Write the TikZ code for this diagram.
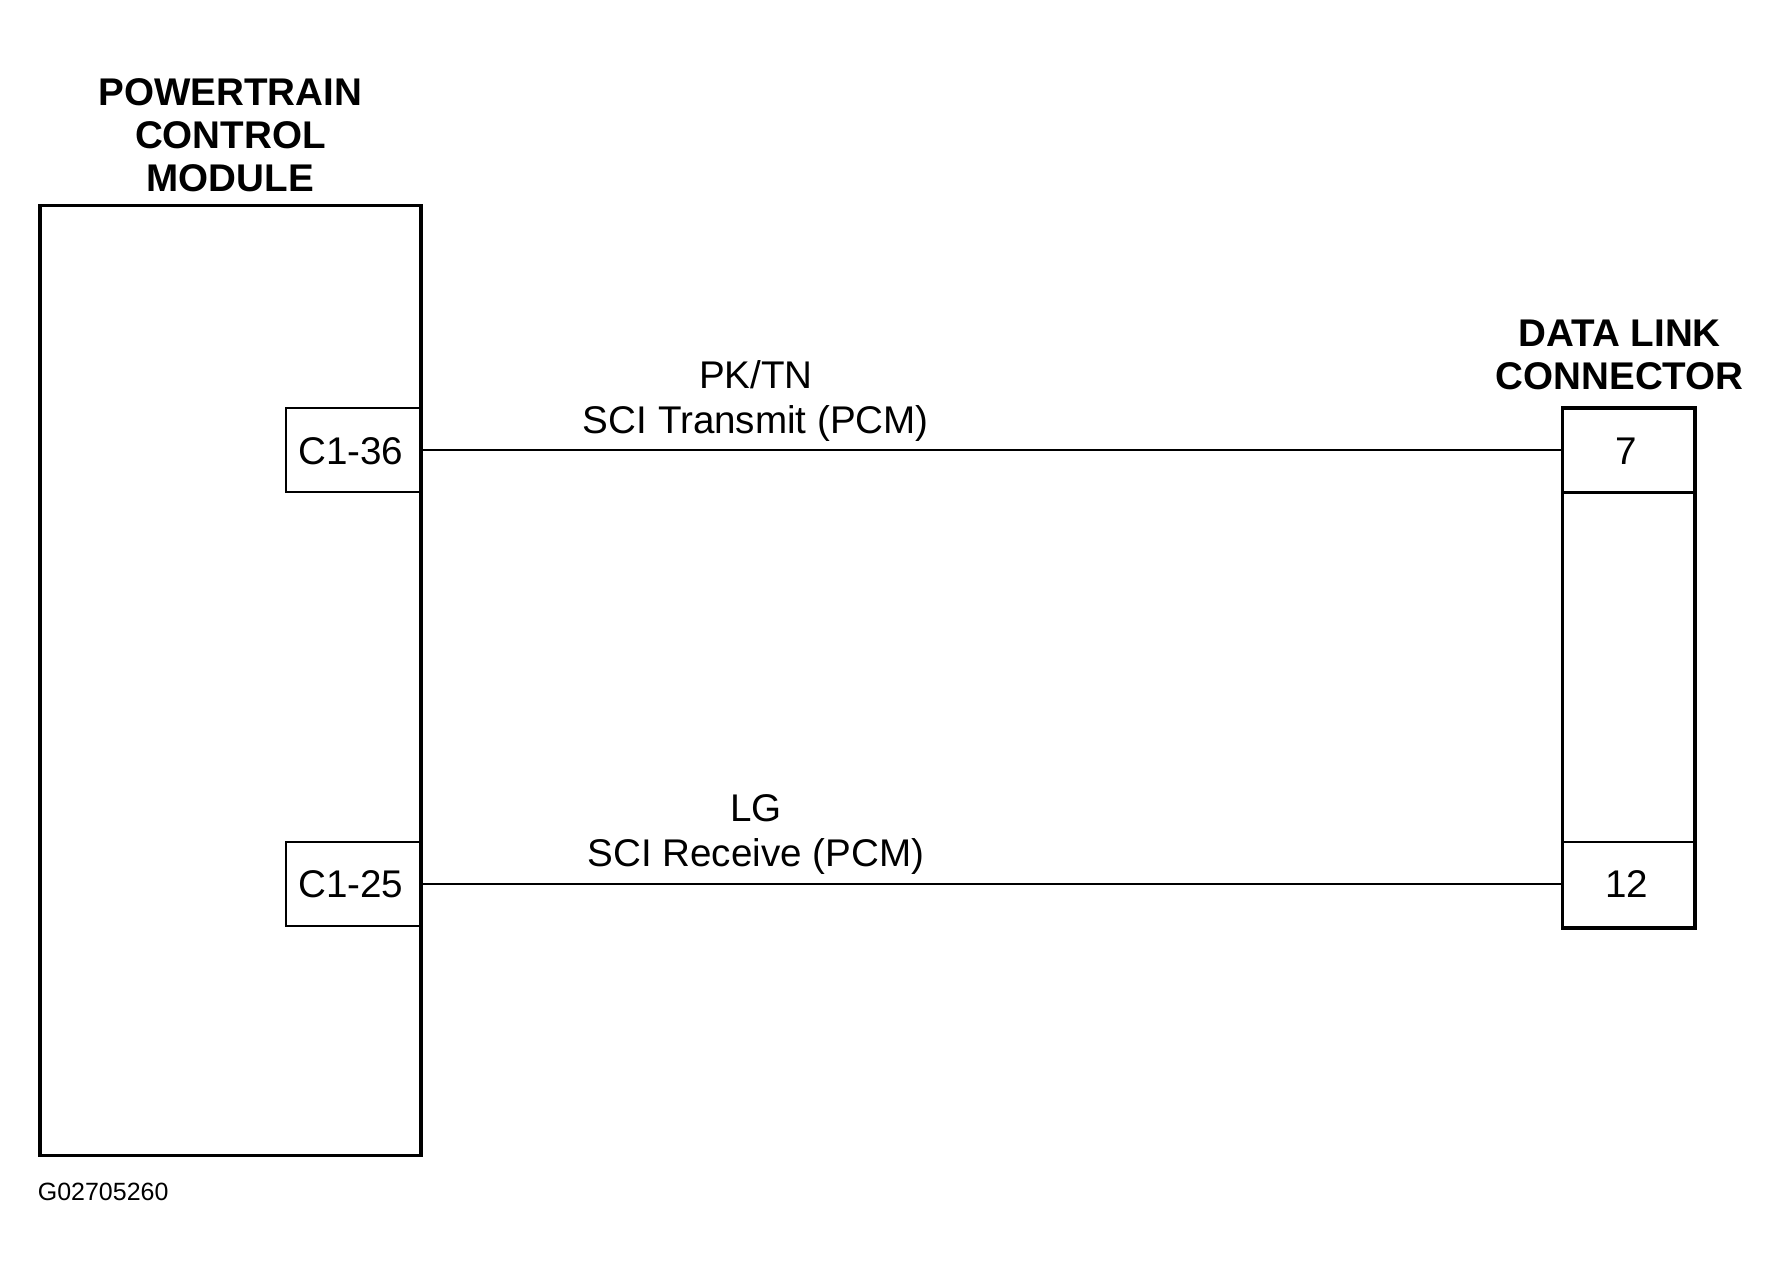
\documentclass[tikz,border=0pt]{standalone}
\usepackage{fontspec}
\setmainfont{Liberation Sans}
\begin{document}
\begin{tikzpicture}[x=0.5pt,y=-0.5pt,
  title/.style={font=\fontsize{17}{19}\selectfont\bfseries, anchor=base, inner sep=0pt},
  lbl/.style={font=\fontsize{17}{20}\selectfont, anchor=base, inner sep=0pt},
  small/.style={font=\fontsize{11}{13}\selectfont, anchor=base west, inner sep=0pt},
  module/.style={draw, line width=1.7pt, minimum width=168pt, minimum height=418.5pt, inner sep=0pt},
  pinbox/.style={draw, line width=1pt, minimum width=59.5pt, minimum height=37pt, inner sep=0pt},
  dlcbox/.style={draw, line width=1.5pt, minimum width=58.5pt, minimum height=229pt, inner sep=0pt},
  cell/.style={minimum width=58.5pt, minimum height=37pt, inner sep=0pt},
  wire/.style={line width=1.1pt}]
\useasboundingbox (0,0) rectangle (1570,1126);
\fill[white] (0,0) rectangle (1570,1126);
% PCM
\node[module] (pcm) at (203,599.5) {};
\node[title] (t1) at (203,93) {POWERTRAIN};
\node[title] (t2) at (203,131) {CONTROL};
\node[title] (t3) at (203,169) {MODULE};
\node[pinbox] (c136) at (311.5,396.5) {};
\node[pinbox] (c125) at (311.5,779) {};
\node[lbl] (c136t) at (309,409) {C1-36};
\node[lbl] (c125t) at (309,791) {C1-25};
% DLC
\node[dlcbox] (dlc) at (1435,588.5) {};
\node[title] (d1) at (1427,305) {DATA LINK};
\node[title] (d2) at (1427,343) {CONNECTOR};
\node[cell] (p7) at (1435,396.5) {};
\node[cell] (p12) at (1435,779) {};
\draw[wire] (p7.south west) -- (p7.south east);
\draw[wire] (p12.north west) -- (p12.north east);
\node[lbl] (p7t) at (1433,409) {7};
\node[lbl] (p12t) at (1433,791) {12};
% wires
\draw[wire] (c136.east) -- (p7.west);
\draw[wire] (c125.east) -- (p12.west);
\node[lbl] (w1a) at (666,342) {PK/TN};
\node[lbl] (w1b) at (666,382) {SCI Transmit (PCM)};
\node[lbl] (w2a) at (666,724) {LG};
\node[lbl] (w2b) at (666,763) {SCI Receive (PCM)};
\node[small] (fig) at (33,1058) {G02705260};
\end{tikzpicture}
\end{document}
